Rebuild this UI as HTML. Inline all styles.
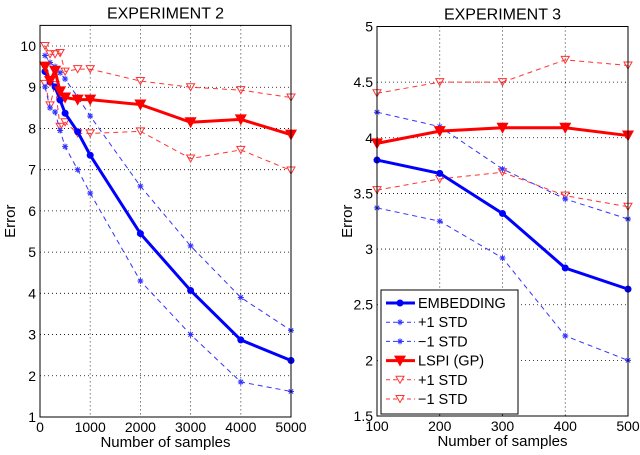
<!DOCTYPE html>
<html><head><meta charset="utf-8"><style>
body{margin:0;background:#fff;}
svg{display:block;font-family:"Liberation Sans",Arial,sans-serif;}
</style></head><body>
<svg id="chart" width="640" height="455" viewBox="0 0 640 455"></svg>
<script>
const leftX=[100,200,300,400,500,750,1000,2000,3000,4000,5000];
const leftEmb=[9.38,9.13,9.01,8.69,8.37,7.92,7.35,5.45,4.07,2.87,2.37];
const leftEmbHi=[9.77,9.6,9.5,9.35,9.2,8.76,8.3,6.6,5.15,3.9,3.1];
const leftEmbLo=[9.01,8.5,8.4,7.95,7.56,7.0,6.43,4.3,3.0,1.85,1.62];
const leftLspi=[9.5,9.15,9.4,8.9,8.75,8.7,8.7,8.58,8.15,8.22,7.85];
const leftLspiHi=[10.0,9.8,9.8,9.83,9.38,9.44,9.44,9.15,9.0,8.93,8.75];
const leftLspiLo=[9.08,8.56,9.05,8.04,8.15,7.88,7.88,7.93,7.27,7.48,6.98];
const rightX=[100,200,300,400,500];
const rightEmb=[3.8,3.68,3.32,2.83,2.64];
const rightEmbHi=[4.23,4.1,3.72,3.45,3.27];
const rightEmbLo=[3.37,3.25,2.92,2.22,2.0];
const rightLspi=[3.95,4.06,4.09,4.09,4.02];
const rightLspiHi=[4.4,4.5,4.5,4.7,4.65];
const rightLspiLo=[3.53,3.63,3.69,3.48,3.38];
const leftXTicks=[0,1000,2000,3000,4000,5000];
const leftYTicks=[1,2,3,4,5,6,7,8,9,10];
const rightXTicks=[100,200,300,400,500];
const rightYTicks=[1.5,2,2.5,3,3.5,4,4.5,5];

const svg=document.getElementById('chart');
const NS='http://www.w3.org/2000/svg';
function mk(tag,attrs,parent){const e=document.createElementNS(NS,tag);for(const k in attrs)e.setAttribute(k,attrs[k]);(parent||svg).appendChild(e);return e;}

function panel(name,L,R,T,B,xmin,xmax,ymin,ymax,xt,yt,title,series){
  const g=mk('g',{});
  
  
  const sx=v=>L+(v-xmin)/(xmax-xmin)*(R-L);
  const sy=v=>B-(v-ymin)/(ymax-ymin)*(B-T);
  mk('rect',{x:L,y:T,width:R-L,height:B-T,fill:'#fff'},g);
  xt.forEach(v=>{
    const x=sx(v);
    if(v!==xmin&&v!==xmax){const l=mk('line',{x1:x,x2:x,y1:T,y2:B,stroke:'#000','stroke-width':0.8,'stroke-dasharray':'1 3'},g);
    
    }
    const t=mk('text',{x:x,y:B+15,'font-size':14,'text-anchor':'middle'},g);
    t.textContent=v;
    
    
  });
  yt.forEach(v=>{
    const y=sy(v);
    if(v!==ymin&&v!==ymax){const l=mk('line',{x1:L,x2:R,y1:y,y2:y,stroke:'#000','stroke-width':0.8,'stroke-dasharray':'1 3'},g);
    
    }
    const t=mk('text',{x:L-4,y:y+5,'font-size':14,'text-anchor':'end'},g);
    t.textContent=v;
    
    
  });
  series.forEach(s=>{
    const pts=s.x.map((xv,i)=>sx(xv)+','+sy(s.y[i])).join(' ');
    const pl=mk('polyline',{points:pts,fill:'none',stroke:s.c,'stroke-width':s.w,'stroke-dasharray':s.dash||'none'},g);
    
    
    s.x.forEach((xv,i)=>{
      const x=sx(xv),y=sy(s.y[i]);
      let m;
      if(s.m==='dot')m=mk('circle',{cx:x,cy:y,r:3.5,fill:s.c},g);
      else if(s.m==='star')m=mk('path',{d:`M${x-3},${y}H${x+3}M${x},${y-3}V${y+3}M${x-2.2},${y-2.2}L${x+2.2},${y+2.2}M${x-2.2},${y+2.2}L${x+2.2},${y-2.2}`,stroke:s.c,'stroke-width':1},g);
      else if(s.m==='tri')m=mk('path',{d:`M${x-6},${y-5}H${x+6}L${x},${y+6}Z`,fill:s.c},g);
      else m=mk('path',{d:`M${x-4},${y-3.5}H${x+4}L${x},${y+3.5}Z`,fill:'none',stroke:s.c,'stroke-width':1},g);
      
      
    });
  });
  mk('rect',{x:L,y:T,width:R-L,height:B-T,fill:'none',stroke:'#000','stroke-width':1},g);
  const tt=mk('text',{x:(L+R)/2,y:T-7,'font-size':16,'text-anchor':'middle'},g);
  tt.textContent=title;
  
  
  const xl=mk('text',{x:(L+R)/2,y:B+30,'font-size':15,'text-anchor':'middle'},g);
  xl.textContent='Number of samples';
  
  
  const yl=mk('text',{x:0,y:0,'font-size':15,'text-anchor':'middle',transform:`translate(${L-25},${(T+B)/2}) rotate(-90)`},g);
  yl.textContent='Error';
  
  
}
function ser(x,e,eh,el,l,lh,ll){return [
 {name:'lspi-plus-std',x:x,y:lh,c:'#f33',w:1,dash:'5 4',m:'otri'},
 {name:'lspi-minus-std',x:x,y:ll,c:'#f33',w:1,dash:'5 4',m:'otri'},
 {name:'embedding-plus-std',x:x,y:eh,c:'#33f',w:1,dash:'5 4',m:'star'},
 {name:'embedding-minus-std',x:x,y:el,c:'#33f',w:1,dash:'5 4',m:'star'},
 {name:'embedding-line',x:x,y:e,c:'#00f',w:3,m:'dot'},
 {name:'lspi-line',x:x,y:l,c:'#f00',w:3,m:'tri'}];}
panel('left-panel',40,291,25.4,417,0,5000,1,10.5,leftXTicks,leftYTicks,'EXPERIMENT 2',
  ser(leftX,leftEmb,leftEmbHi,leftEmbLo,leftLspi,leftLspiHi,leftLspiLo));
panel('right-panel',377,628,26.5,416,100,500,1.5,5,rightXTicks,rightYTicks,'EXPERIMENT 3',
  ser(rightX,rightEmb,rightEmbHi,rightEmbLo,rightLspi,rightLspiHi,rightLspiLo));

const lg=mk('g',{});


mk('rect',{x:381,y:290,width:137,height:124,fill:'#fff',stroke:'#000','stroke-width':1},lg);
const items=[['EMBEDDING','#00f',3,'none','dot'],['+1 STD','#33f',1,'4 3','star'],['\u22121 STD','#33f',1,'4 3','star'],
 ['LSPI (GP)','#f00',3,'none','tri'],['+1 STD','#f33',1,'4 3','otri'],['\u22121 STD','#f33',1,'4 3','otri']];
items.forEach((it,i)=>{
  const y=303+i*19.2;
  const e=mk('g',{},lg);
  
  
  mk('line',{x1:386,x2:415,y1:y,y2:y,stroke:it[1],'stroke-width':it[2],'stroke-dasharray':it[3]},e);
  const x=400;
  if(it[4]==='dot')mk('circle',{cx:x,cy:y,r:3.5,fill:it[1]},e);
  else if(it[4]==='star')mk('path',{d:`M${x-3},${y}H${x+3}M${x},${y-3}V${y+3}M${x-2},${y-2}L${x+2},${y+2}M${x-2},${y+2}L${x+2},${y-2}`,stroke:it[1]},e);
  else if(it[4]==='tri')mk('path',{d:`M${x-6},${y-5}H${x+6}L${x},${y+6}Z`,fill:it[1]},e);
  else mk('path',{d:`M${x-4},${y-3.5}H${x+4}L${x},${y+3.5}Z`,fill:'#fff',stroke:it[1]},e);
  const t=mk('text',{x:418,y:y+5,'font-size':14.5},e);
  t.textContent=it[0];
});
</script>
</body></html>
